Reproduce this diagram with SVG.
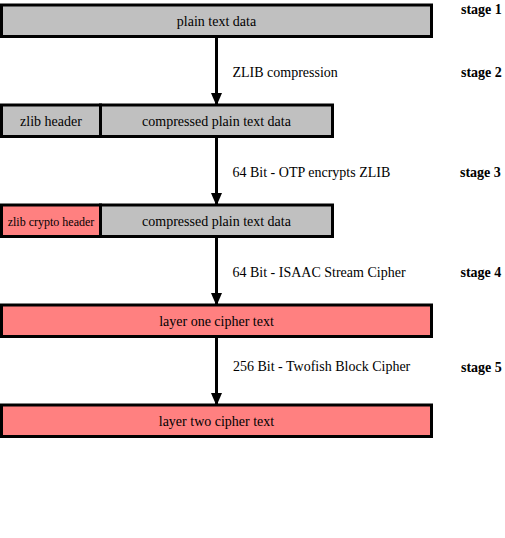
<svg xmlns="http://www.w3.org/2000/svg" width="505" height="538" viewBox="0 0 505 538">
<style>
.box{stroke:#000;stroke-width:3}
.grey{fill:#c0c0c0}
.red{fill:#ff8080}
text{font-family:"Liberation Serif","Times New Roman",serif;fill:#000}
.t{font-size:14px;text-anchor:middle}
.s{font-size:12px;text-anchor:middle}
.lbl{font-size:14px}
.stage{font-size:14px;font-weight:bold}
.conn{stroke:#000;stroke-width:3;fill:none}
</style>
<defs>
<marker id="ah" markerUnits="userSpaceOnUse" markerWidth="13" markerHeight="15" refX="13" refY="6.5" orient="auto" viewBox="0 0 15 13">
<path d="M0,0 L15,6.5 L0,13 Z" fill="#000"/>
</marker>
</defs>
<rect width="505" height="538" fill="#fff"/>
<g id="connectors">
<line class="conn" x1="216.5" y1="37" x2="216.5" y2="104" marker-end="url(#ah)"/>
<line class="conn" x1="216.5" y1="137" x2="216.5" y2="204" marker-end="url(#ah)"/>
<line class="conn" x1="216.5" y1="237" x2="216.5" y2="304" marker-end="url(#ah)"/>
<line class="conn" x1="216.5" y1="337" x2="216.5" y2="404" marker-end="url(#ah)"/>
</g>
<g id="n-plain">
<rect class="box grey" x="1.5" y="5" width="430" height="31.5"/>
<text class="t" x="216.5" y="26">plain text data</text>
</g>
<g id="n-zlib-header">
<rect class="box grey" x="1.5" y="105" width="99" height="31.5"/>
<text class="t" x="51" y="126">zlib header</text>
</g>
<g id="n-compressed1">
<rect class="box grey" x="100.5" y="105" width="232" height="31.5"/>
<text class="t" x="216.5" y="126">compressed plain text data</text>
</g>
<g id="n-zlib-crypto-header">
<rect class="box red" x="1.5" y="205" width="99" height="31.5"/>
<text class="s" x="51" y="226">zlib crypto header</text>
</g>
<g id="n-compressed2">
<rect class="box grey" x="100.5" y="205" width="232" height="31.5"/>
<text class="t" x="216.5" y="226">compressed plain text data</text>
</g>
<g id="n-layer1">
<rect class="box red" x="1.5" y="305" width="430" height="31.5"/>
<text class="t" x="216.5" y="326">layer one cipher text</text>
</g>
<g id="n-layer2">
<rect class="box red" x="1.5" y="405" width="430" height="31.5"/>
<text class="t" x="216.5" y="426">layer two cipher text</text>
</g>
<g id="labels">
<text class="lbl" x="232.5" y="76.5">ZLIB compression</text>
<text class="lbl" x="232.5" y="176.5">64 Bit - OTP encrypts ZLIB</text>
<text class="lbl" x="232.5" y="276.5">64 Bit - ISAAC Stream Cipher</text>
<text class="lbl" x="233" y="371">256 Bit - Twofish Block Cipher</text>
</g>
<g id="stages">
<text class="stage" x="461" y="14">stage 1</text>
<text class="stage" x="461" y="77">stage 2</text>
<text class="stage" x="460" y="177">stage 3</text>
<text class="stage" x="460.5" y="277">stage 4</text>
<text class="stage" x="461" y="372">stage 5</text>
</g>
</svg>
